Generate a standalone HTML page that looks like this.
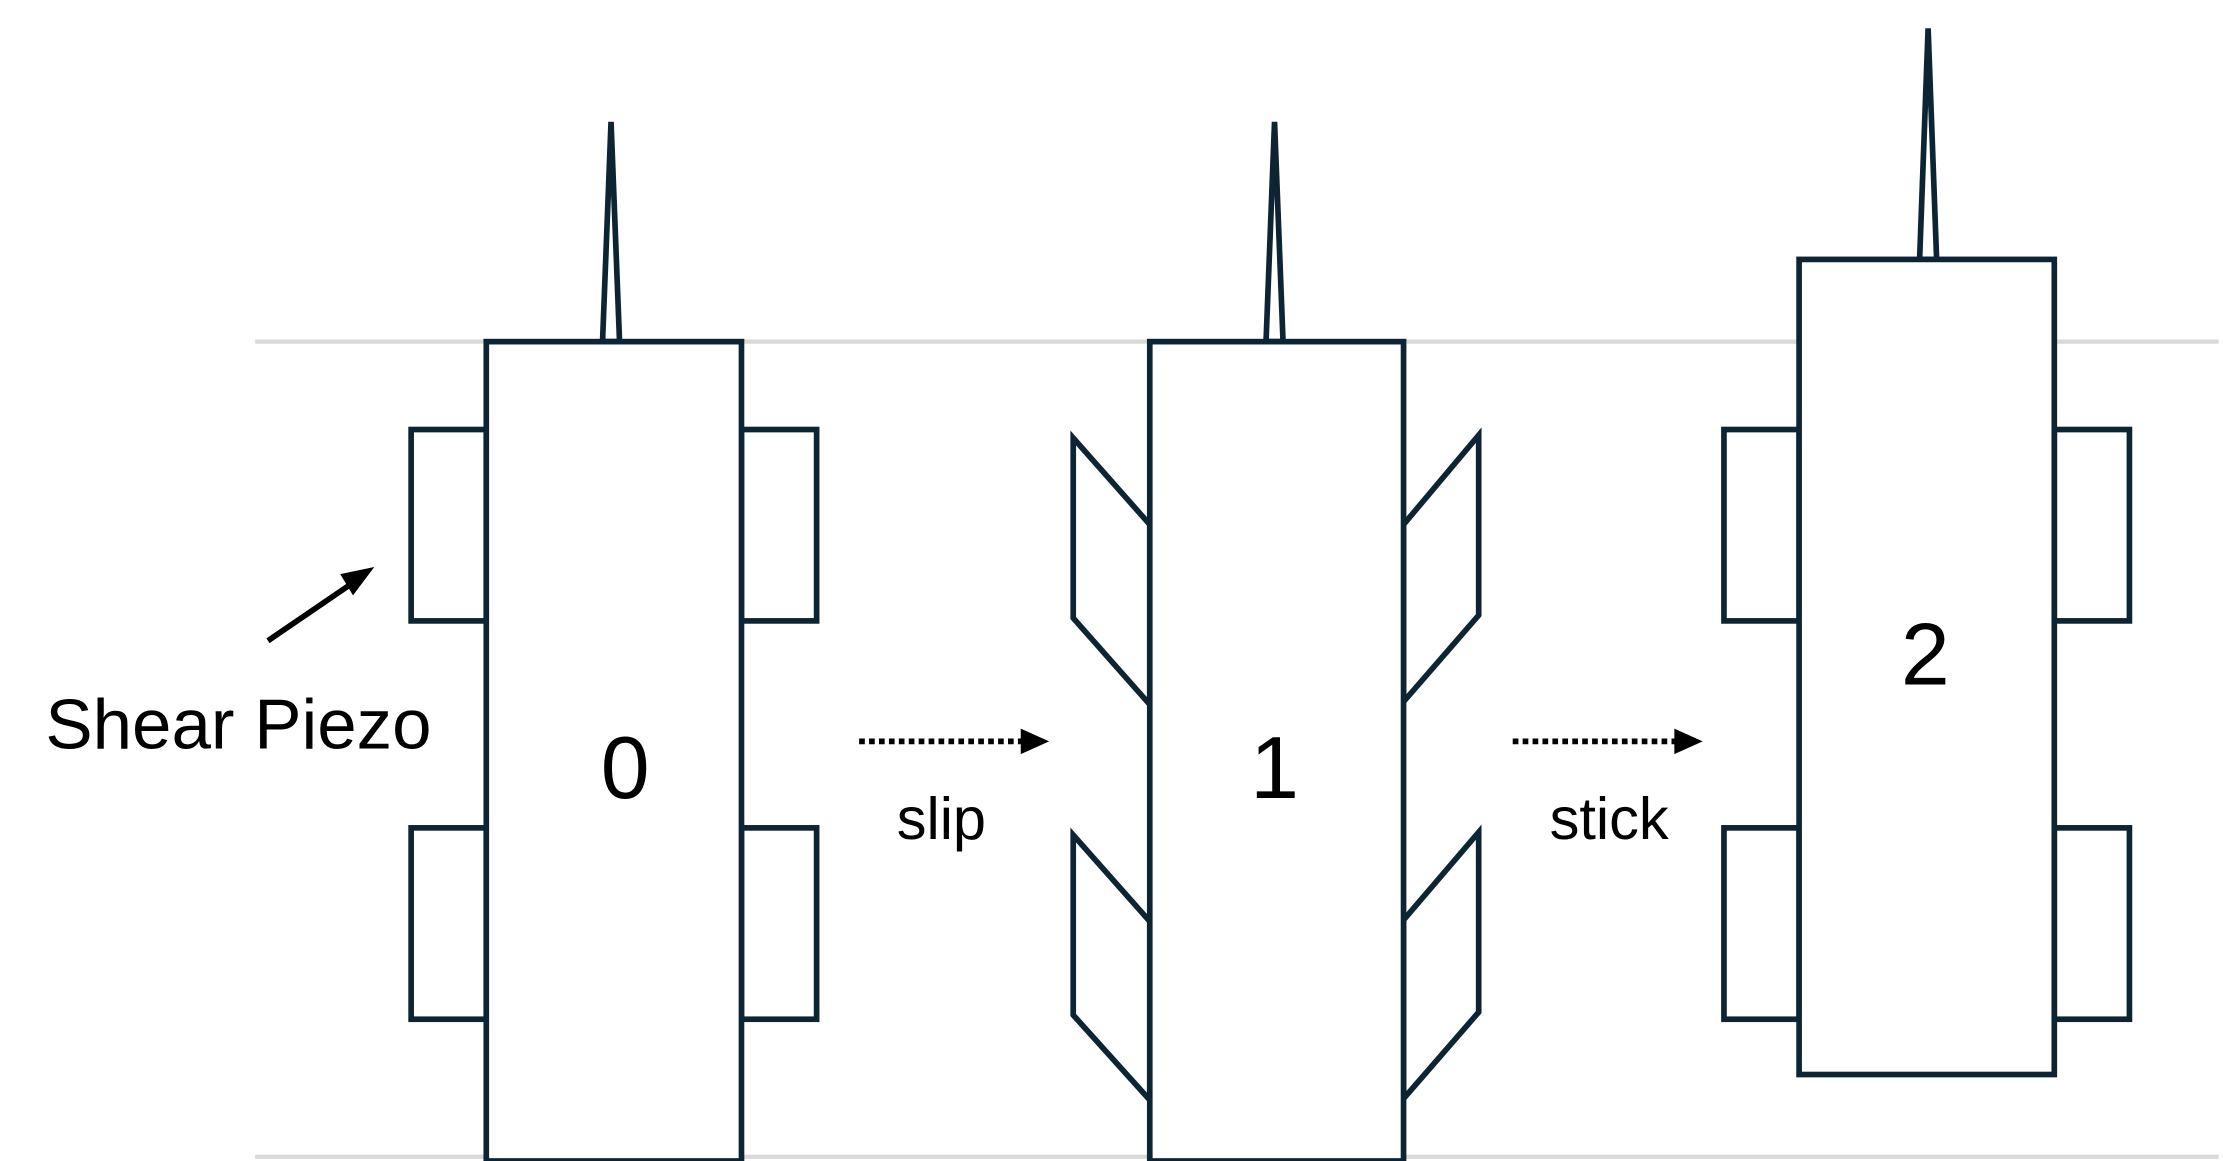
<!DOCTYPE html>
<html><head><meta charset="utf-8"><style>
html,body{margin:0;padding:0;background:#fff;width:2223px;height:1161px;overflow:hidden}
svg{display:block}
text{font-family:"Liberation Sans","Noto Sans CJK KR",sans-serif;fill:#000}
</style></head><body>
<svg width="2223" height="1161" viewBox="0 0 1568 819" preserveAspectRatio="none" xmlns="http://www.w3.org/2000/svg">
<g stroke="#d9d9d9" stroke-width="3">
<line x1="180" y1="241" x2="1565" y2="241"/>
<line x1="180" y1="816" x2="1565" y2="816"/>
</g>
<g fill="#fff" stroke="#0d2533" stroke-width="4" stroke-linejoin="miter">
<polygon points="425,241 431,86 437,241"/>
<rect x="290" y="303" width="53" height="135"/>
<rect x="290" y="584" width="53" height="135"/>
<rect x="523" y="303" width="53" height="135"/>
<rect x="523" y="584" width="53" height="135"/>
<rect x="343" y="241" width="180" height="578"/>
<polygon points="893,241 899,86 905,241"/>
<polygon points="811,370 757,309 757,436 811,497"/>
<polygon points="811,650 757,589 757,716 811,776"/>
<polygon points="990,370 1043,307 1043,434 990,495"/>
<polygon points="990,649 1043,587 1043,714 990,775"/>
<rect x="811" y="241" width="179" height="578"/>
<polygon points="1354,183 1360,20 1366,183"/>
<rect x="1216" y="303" width="53" height="135"/>
<rect x="1216" y="584" width="53" height="135"/>
<rect x="1449" y="303" width="53" height="135"/>
<rect x="1449" y="584" width="53" height="135"/>
<rect x="1269" y="183" width="180" height="575"/>
</g>
<g font-size="62" text-anchor="middle">
<text x="441" y="563">0</text>
<text x="899" y="563">1</text>
<text x="1358" y="483">2</text>
</g>
<g stroke="#000" stroke-width="4" stroke-dasharray="4,3">
<line x1="606" y1="523" x2="722" y2="523"/>
<line x1="1067" y1="523" x2="1183" y2="523"/>
</g>
<polygon points="720,514 740,523 720,532" fill="#000"/>
<polygon points="1181,514 1201,523 1181,532" fill="#000"/>
<text x="664" y="592" font-size="42" text-anchor="middle">slip</text>
<text x="1135" y="592" font-size="42" text-anchor="middle">stick</text>
<line x1="189" y1="452" x2="252" y2="409" stroke="#000" stroke-width="4"/>
<polygon points="264,400 249,420 240,405" fill="#000"/>
<text x="32" y="528" font-size="50">Shear Piezo</text>
</svg>
</body></html>
